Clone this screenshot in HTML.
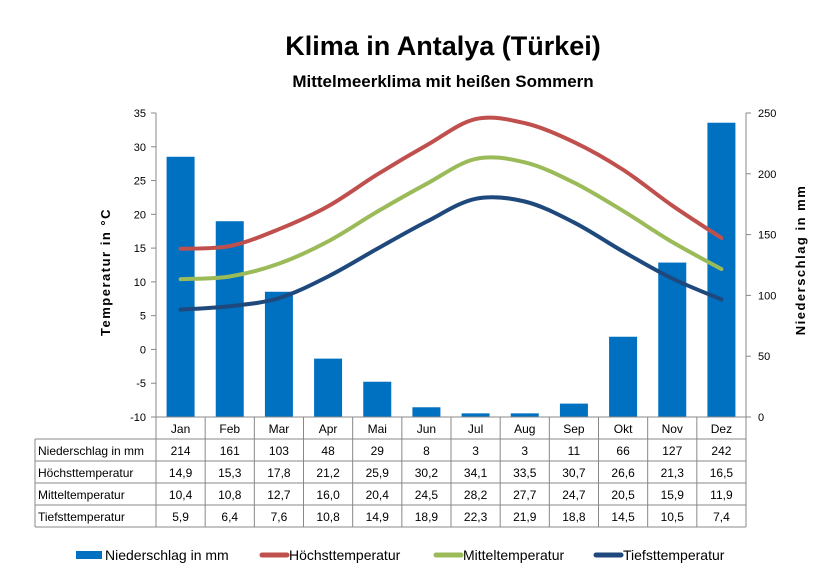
<!DOCTYPE html>
<html><head><meta charset="utf-8"><style>
body{margin:0;background:#fff;}
svg{display:block;font-family:"Liberation Sans",sans-serif;}
</style></head><body>
<svg id="c" width="838" height="579"></svg>
<script>
const months=["Jan","Feb","Mar","Apr","Mai","Jun","Jul","Aug","Sep","Okt","Nov","Dez"];
const precip=[214,161,103,48,29,8,3,3,11,66,127,242];
const tmax=[14.9,15.3,17.8,21.2,25.9,30.2,34.1,33.5,30.7,26.6,21.3,16.5];
const tmean=[10.4,10.8,12.7,16.0,20.4,24.5,28.2,27.7,24.7,20.5,15.9,11.9];
const tmin=[5.9,6.4,7.6,10.8,14.9,18.9,22.3,21.9,18.8,14.5,10.5,7.4];
const leftTicks=[-10,-5,0,5,10,15,20,25,30,35];
const rightTicks=[0,50,100,150,200,250];
const svg=document.getElementById('c');
const NS='http://www.w3.org/2000/svg';
function el(t,a,txt){const e=document.createElementNS(NS,t);for(const k in a)e.setAttribute(k,a[k]);if(txt!==undefined)e.textContent=txt;svg.appendChild(e);return e;}
const X0=156,X1=746,YT=113,YB=417,cw=(X1-X0)/12;
const yL=v=>YB-(v+10)/45*(YB-YT);
const yR=v=>YB-v/250*(YB-YT);
const xc=i=>X0+cw*(i+0.5);
let t=el('text',{x:443,y:55,'text-anchor':'middle','font-size':27,'font-weight':'bold'},'Klima in Antalya (Türkei)');

t=el('text',{x:443,y:87,'text-anchor':'middle','font-size':17,'font-weight':'bold'},'Mittelmeerklima mit heißen Sommern');

el('line',{x1:X0,y1:YT,x2:X0,y2:YB,stroke:'#888'});
el('line',{x1:X1,y1:YT,x2:X1,y2:YB,stroke:'#888'});
leftTicks.forEach(v=>{const y=yL(v);el('line',{x1:X0-5,y1:y,x2:X0,y2:y,stroke:'#888'});
 const e=el('text',{x:X0-10,y:y+4,'text-anchor':'end','font-size':11},String(v));});
rightTicks.forEach(v=>{const y=yR(v);el('line',{x1:X1,y1:y,x2:X1+5,y2:y,stroke:'#888'});
 const e=el('text',{x:X1+12,y:y+4,'font-size':11},String(v));});
t=el('text',{transform:'translate(110,272) rotate(-90)','text-anchor':'middle','font-size':13,'font-weight':'bold','letter-spacing':'1.5'},'Temperatur  in  °C');

t=el('text',{transform:'translate(805,260) rotate(-90)','text-anchor':'middle','font-size':13,'font-weight':'bold','letter-spacing':'1.5'},'Niederschlag  in  mm');

precip.forEach((v,i)=>{const b=el('rect',{x:xc(i)-14,y:yR(v),width:28,height:YB-yR(v),fill:'#0070c0'});
 });
function smooth(arr){const p=arr.map((v,i)=>[xc(i),yL(v)]);let d='M'+p[0];
 for(let i=0;i<p.length-1;i++){const p0=p[i-1]||p[i],p1=p[i],p2=p[i+1],p3=p[i+2]||p2;
  d+=' C'+(p1[0]+(p2[0]-p0[0])/6)+','+(p1[1]+(p2[1]-p0[1])/6)+' '+(p2[0]-(p3[0]-p1[0])/6)+','+(p2[1]-(p3[1]-p1[1])/6)+' '+p2;}return d;}
[[tmax,'#c0504d','line-hoechsttemperatur'],[tmean,'#9bbb59','line-mitteltemperatur'],[tmin,'#1f497d','line-tiefsttemperatur']].forEach(s=>{
 const l=el('path',{d:smooth(s[0]),fill:'none',stroke:s[1],'stroke-width':4,'stroke-linecap':'round'});
 });
const TL=35,rows=[['Niederschlag in mm',precip.map(String)],['Höchsttemperatur',tmax.map(v=>v.toFixed(1).replace('.',','))],['Mitteltemperatur',tmean.map(v=>v.toFixed(1).replace('.',','))],['Tiefsttemperatur',tmin.map(v=>v.toFixed(1).replace('.',','))]];
const RH=22,R0=439;
el('line',{x1:X0,y1:YB,x2:X1,y2:YB,stroke:'#888'});
for(let r=0;r<=4;r++)el('line',{x1:TL,y1:R0+r*RH,x2:X1,y2:R0+r*RH,stroke:'#888'});
el('line',{x1:TL,y1:R0,x2:TL,y2:R0+4*RH,stroke:'#888'});
for(let i=0;i<=12;i++)el('line',{x1:X0+cw*i,y1:YB,x2:X0+cw*i,y2:R0+4*RH,stroke:'#888'});
months.forEach((m,i)=>{const e=el('text',{x:xc(i),y:YB+16,'text-anchor':'middle','font-size':12},m);});
rows.forEach((r,ri)=>{const y=R0+ri*RH+16;
 const e=el('text',{x:TL+3,y:y,'font-size':12},r[0]);
 r[1].forEach((v,i)=>{const c=el('text',{x:xc(i),y:y,'text-anchor':'middle','font-size':12},v);});});
const leg=[['Niederschlag in mm','#0070c0',76,'bar'],['Höchsttemperatur','#c0504d',260,'line'],['Mitteltemperatur','#9bbb59',434,'line'],['Tiefsttemperatur','#1f497d',594,'line']];
leg.forEach(g=>{if(g[3]==='bar')el('rect',{x:g[2],y:551,width:26,height:8,fill:g[1]});
 else el('line',{x1:g[2]+2,y1:555,x2:g[2]+27,y2:555,stroke:g[1],'stroke-width':5,'stroke-linecap':'round'});
 const e=el('text',{x:g[2]+29,y:560,'font-size':14},g[0]);});
</script>
</body></html>
